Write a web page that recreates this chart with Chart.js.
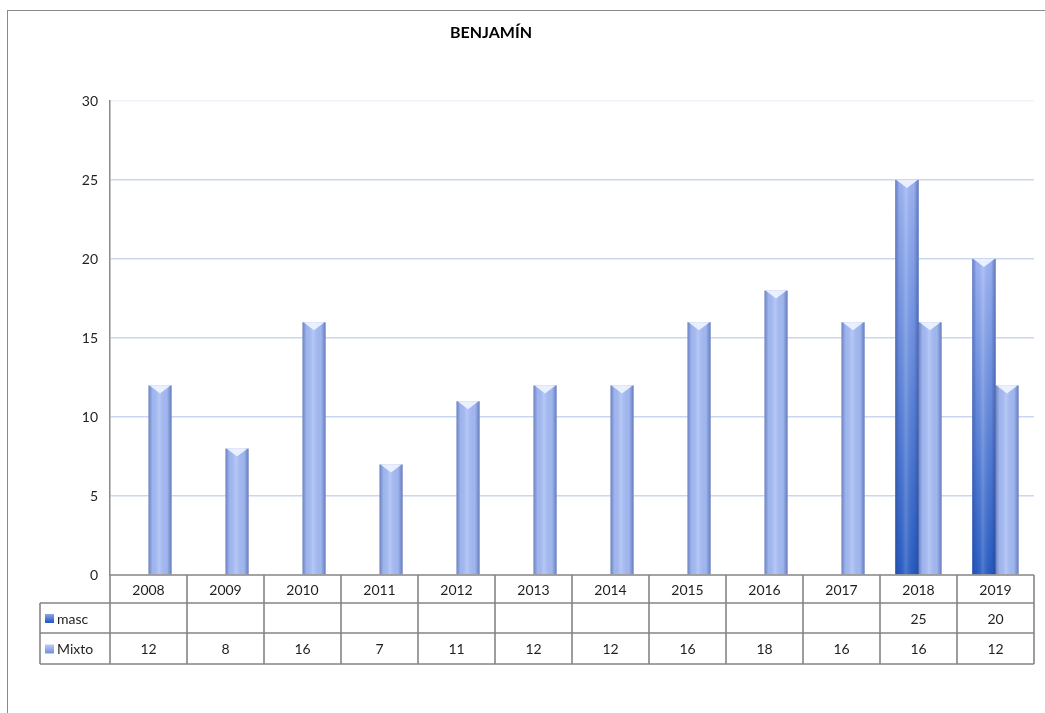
<!DOCTYPE html>
<html>
<head>
<meta charset="utf-8">
<script src="https://cdn.jsdelivr.net/npm/chart.js@4.4.1/dist/chart.umd.min.js"></script>
<style>
  html, body { margin: 0; padding: 0; background: #fff; }
  #wrap { position: relative; width: 1045px; height: 713px; }
  #frame { position: absolute; left: 7px; top: 10px; width: 1040px; height: 710px;
           border-top: 1px solid #8a8a8a; border-left: 1px solid #8a8a8a; }
  canvas { position: absolute; left: 0; top: 0; }
</style>
</head>
<body>
<div id="wrap">
  <div id="frame"></div>
  <canvas id="myChart" width="1045" height="713"></canvas>
</div>
<script>
const years = ['2008', '2009', '2010', '2011', '2012', '2013', '2014', '2015', '2016', '2017', '2018', '2019'];
const masc = [null, null, null, null, null, null, null, null, null, null, 25, 20];
const mixto = [12, 8, 16, 7, 11, 12, 12, 16, 18, 16, 16, 12];
const yTicks = [0, 5, 10, 15, 20, 25, 30];
const chartTitle = 'BENJAMÍN';

const FONT = 'Lato, "Open Sans", sans-serif';

// shading over the bars: side edges, darker base for masc, light bevel on top
const barLook = {
  id: 'barLook',
  afterDatasetsDraw(chart) {
    const ctx = chart.ctx;
    chart.data.datasets.forEach((ds, di) => {
      const meta = chart.getDatasetMeta(di);
      meta.data.forEach((bar, i) => {
        if (ds.data[i] == null) return;
        const p = bar.getProps(['x', 'y', 'base', 'width'], true);
        const l = p.x - p.width / 2, r = p.x + p.width / 2, t = p.y, b = p.base;
        ctx.save();
        if (di === 0) {
          const vg = ctx.createLinearGradient(0, t, 0, b);
          vg.addColorStop(0, 'rgba(160,182,245,1)');
          vg.addColorStop(1, 'rgba(38,92,196,1)');
          ctx.fillStyle = vg;
          ctx.fillRect(l, t, r - l, b - t);
        }
        const hg = ctx.createLinearGradient(l, 0, r, 0);
        hg.addColorStop(0, 'rgba(40,60,130,0.45)');
        hg.addColorStop(0.18, 'rgba(40,60,130,0.05)');
        hg.addColorStop(0.45, 'rgba(255,255,255,0.18)');
        hg.addColorStop(0.8, 'rgba(40,60,130,0.05)');
        hg.addColorStop(1, 'rgba(40,60,130,0.5)');
        ctx.fillStyle = hg;
        ctx.fillRect(l, t, r - l, b - t);
        // top bevel
        const d = Math.min(8, (b - t) / 2);
        ctx.beginPath();
        ctx.moveTo(l + 1, t);
        ctx.lineTo(r - 1, t);
        ctx.lineTo(p.x, t + d);
        ctx.closePath();
        ctx.fillStyle = 'rgba(236,242,255,0.95)';
        ctx.fill();
        ctx.restore();
      });
    });
  }
};

// title and data table under the plot
const tableAndTitle = {
  id: 'tableAndTitle',
  afterDraw(chart) {
    const ctx = chart.ctx;
    const xs = chart.scales.x;
    const area = chart.chartArea;
    const half = (xs.getPixelForValue(1) - xs.getPixelForValue(0)) / 2;
    const rows = [area.bottom, 603, 633, 664];
    const leftCol = 40;
    ctx.save();
    ctx.fillStyle = '#000';
    ctx.font = 'bold 16px ' + FONT;
    ctx.textAlign = 'center';
    ctx.textBaseline = 'middle';
    ctx.fillText(chartTitle, 491, 33);

    ctx.strokeStyle = '#858585';
    ctx.lineWidth = 1.6;
    ctx.beginPath();
    // horizontal lines
    ctx.moveTo(area.left, rows[0]); ctx.lineTo(area.right, rows[0]);
    for (let k = 1; k < rows.length; k++) {
      ctx.moveTo(leftCol, rows[k]); ctx.lineTo(area.right, rows[k]);
    }
    // vertical lines
    ctx.moveTo(leftCol, rows[1]); ctx.lineTo(leftCol, rows[3]);
    years.forEach((y, i) => {
      const c = xs.getPixelForValue(i);
      ctx.moveTo(c - half, rows[0]); ctx.lineTo(c - half, rows[3]);
    });
    ctx.moveTo(area.right, rows[0]); ctx.lineTo(area.right, rows[3]);
    ctx.stroke();

    ctx.fillStyle = '#1f1f1f';
    ctx.font = '14px ' + FONT;
    ctx.textAlign = 'center';
    const series = [masc, mixto];
    years.forEach((y, i) => {
      const c = xs.getPixelForValue(i);
      ctx.fillText(y, c, (rows[0] + rows[1]) / 2 + 1);
      series.forEach((s, k) => {
        if (s[i] != null) ctx.fillText(String(s[i]), c, (rows[k + 1] + rows[k + 2]) / 2 + 1);
      });
    });
    // legend keys in table
    const names = ['masc', 'Mixto'];
    const keyCols = [['#8aa6ea', '#2c5cc0'], ['#b9cbf7', '#7a95dc']];
    names.forEach((n, k) => {
      const cy = (rows[k + 1] + rows[k + 2]) / 2;
      const g = ctx.createLinearGradient(0, cy - 4, 0, cy + 4);
      g.addColorStop(0, keyCols[k][0]);
      g.addColorStop(1, keyCols[k][1]);
      ctx.fillStyle = g;
      ctx.fillRect(leftCol + 5, cy - 4, 9, 9);
      ctx.fillStyle = '#1f1f1f';
      ctx.textAlign = 'left';
      ctx.fillText(n, leftCol + 17, cy + 1);
    });
    ctx.restore();
  }
};

new Chart(document.getElementById('myChart'), {
  type: 'bar',
  data: {
    labels: years,
    datasets: [
      { label: 'masc', data: masc, backgroundColor: '#5a82dc', borderWidth: 0,
        categoryPercentage: 0.6, barPercentage: 1.0 },
      { label: 'Mixto', data: mixto, backgroundColor: '#a6bcf4', borderWidth: 0,
        categoryPercentage: 0.6, barPercentage: 1.0 }
    ]
  },
  options: {
    responsive: false,
    animation: false,
    layout: { padding: { top: 101, right: 11, bottom: 138, left: 0 } },
    plugins: {
      legend: { display: false },
      title: { display: false },
      tooltip: { enabled: false }
    },
    scales: {
      x: { display: false },
      y: {
        min: 0, max: 30,
        afterFit(scale) { scale.width = 110; },
        afterBuildTicks(scale) { scale.ticks = yTicks.map(v => ({ value: v })); },
        ticks: { color: '#1f1f1f', font: { family: FONT, size: 14 }, padding: 12 },
        grid: {
          drawTicks: false,
          color: ctx => ctx.tick && ctx.tick.value === 30 ? '#eef2fb' : (ctx.tick && ctx.tick.value === 0 ? 'rgba(0,0,0,0)' : '#c9d7f0'),
          lineWidth: 1.5
        },
        border: { display: true, color: '#8a8a8a', width: 1.5 }
      }
    }
  },
  plugins: [barLook, tableAndTitle]
});
</script>
</body>
</html>
